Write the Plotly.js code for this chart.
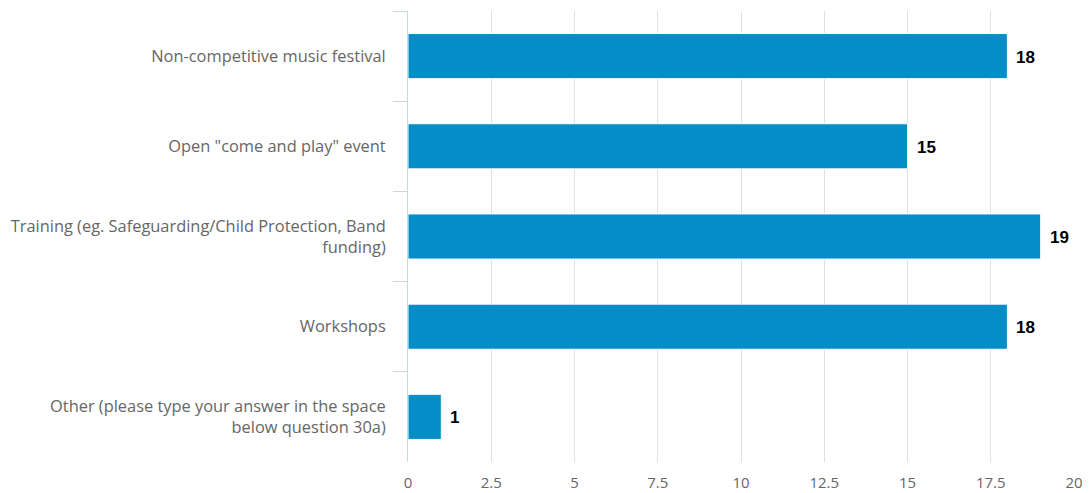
<!DOCTYPE html>
<html><head><meta charset="utf-8">
<script src="https://cdn.plot.ly/plotly-3.0.1.min.js"></script>
<style>html,body{margin:0;padding:0;background:#fff}#chart{width:1091px;height:493px}</style>
</head><body><div id="chart"></div>
<script>
const categories = [
  "Non-competitive music festival",
  "Open \"come and play\" event",
  "Training (eg. Safeguarding/Child Protection, Band<br>funding)",
  "Workshops",
  "Other (please type your answer in the space<br>below question 30a)"
];
const values = [18, 15, 19, 18, 1];
const xTicks = [0, 2.5, 5, 7.5, 10, 12.5, 15, 17.5, 20];
const xTickLabels = ["0", "2.5", "5", "7.5", "10", "12.5", "15", "17.5", "20"];

const trace = {
  type: "bar", orientation: "h",
  x: values, y: categories,
  marker: {color: "#058dc7", line: {color: "#ffffff", width: 1}},
  width: 0.5,
  hoverinfo: "x+y"
};
const annotations = values.map((v, i) => ({
  x: v, y: categories[i], xref: "x", yref: "y",
  text: "<b>" + v + "</b>", showarrow: false, xanchor: "left", xshift: 7, yshift: -1,
  font: {family: "Liberation Sans, Arial, sans-serif", size: 17, color: "#000000"}
}));
const layout = {
  width: 1091, height: 493,
  margin: {l: 408, r: 17, t: 11, b: 31},
  paper_bgcolor: "#ffffff", plot_bgcolor: "#ffffff",
  showlegend: false,
  font: {family: "Open Sans, sans-serif", size: 16.4, color: "#666666"},
  xaxis: {
    range: [0, 20], tickvals: xTicks, ticktext: xTickLabels,
    showgrid: true, gridcolor: "#e0e0e0", gridwidth: 1,
    zeroline: false, showline: false,
    ticks: "outside", ticklen: 7, tickcolor: "rgba(0,0,0,0)", fixedrange: true,
    tickfont: {size: 15, color: "#666666"}
  },
  yaxis: {
    autorange: "reversed", type: "category",
    showline: true, linecolor: "#ccd6eb", linewidth: 1,
    ticks: "outside", tickson: "boundaries", ticklen: 14, tickcolor: "#ccd6eb",
    ticklabelstandoff: 18,
    showgrid: false, zeroline: false,
    tickfont: {size: 16.4, color: "#666666"}
  },
  annotations: annotations
};
Plotly.newPlot("chart", [trace], layout, {displayModeBar: false, staticPlot: true});
</script></body></html>
